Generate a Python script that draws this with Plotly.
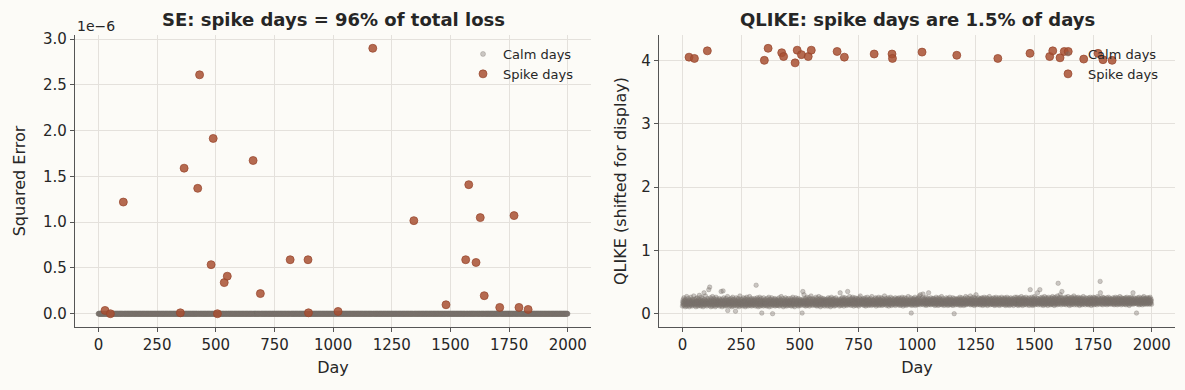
import plotly.graph_objects as go

# ---------------- data ----------------
n_days = 2000
spike_days = [28, 51, 106, 349, 365, 423, 431, 480, 489, 507, 536, 549, 659, 690, 817,
              893, 895, 1021, 1169, 1344, 1481, 1565, 1578, 1609, 1627, 1644, 1710, 1771,
              1792, 1831]
# squared error on spike days, in units of 1e-6
se_spike_x1e6 = [0.036, 0.0, 1.22, 0.01, 1.59, 1.37, 2.61, 0.536, 1.915, 0.0, 0.34, 0.41,
                 1.674, 0.22, 0.59, 0.59, 0.01, 0.025, 2.90, 1.017, 0.098, 0.59, 1.41, 0.56,
                 1.05, 0.197, 0.069, 1.072, 0.069, 0.047]
# QLIKE (shifted for display) on spike days
ql_spike = [4.05, 4.03, 4.15, 4.00, 4.19, 4.12, 4.06, 3.96, 4.16, 4.09, 4.06, 4.16, 4.14,
            4.05, 4.10, 4.10, 4.03, 4.13, 4.08, 4.03, 4.11, 4.06, 4.15, 4.04, 4.14, 4.14,
            4.02, 4.11, 4.01, 4.00]

# QLIKE (shifted) on calm days, in hundredths, read in day order
ql_calm_hundredths = """
12 19 16 22 14 18 25 13 17 20 15 21 11 18 23 16 14 19 27 12 17 15 20 18 13 24 16 19 11 21 17 14 22 18 15 26 13 19 16 20 12 17 23 15 18 21 14 28 16 19
17 13 22 15 19 11 24 18 16 20 14 25 17 12 21 19 15 23 13 18 29 16 20 14 17 22 12 19 26 15 18 13 21 17 24 16 11 20 18 14 33 19 15 22 17 13 28 16 21 18
15 20 12 19 24 17 14 22 16 38 18 13 21 42 15 19 25 17 11 20 16 23 14 18 12 27 19 15 21 17 13 24 18 16 20 14 22 11 19 17 26 15 18 13 23 16 20 14 19 17
18 14 21 16 24 12 19 17 22 15 13 20 35 18 16 23 11 19 14 21 36 17 15 25 13 18 20 16 22 12 19 14 17 24 16 21 13 18 15 27 05 20 17 14 22 16 19 12 18 23
16 21 13 19 15 24 17 11 20 18 14 26 16 22 12 19 17 15 23 13 18 21 16 04 19 14 25 17 20 12 18 15 22 16 13 24 19 17 11 21 15 18 28 14 20 16 23 13 17 19
14 18 22 16 12 20 17 25 15 19 13 21 18 16 24 11 19 14 22 17 15 26 13 20 18 16 23 12 19 15 21 17 14 27 16 18 13 22 20 15 17 24 12 19 16 21 14 18 23 15
19 13 21 17 15 24 16 20 12 18 22 45 14 19 17 25 13 21 16 18 11 23 15 20 17 14 26 19 12 22 16 18 15 24 13 01 20 17 14 21 16 19 12 25 18 15 22 17 13 20
16 22 14 19 17 12 24 18 15 21 13 20 16 26 17 11 19 23 15 18 14 22 16 20 12 25 17 19 15 00 21 14 18 16 23 13 20 17 15 24 12 19 22 16 18 14 21 17 13 20
18 15 23 13 20 17 16 25 12 19 21 14 18 16 22 15 27 17 13 20 19 15 24 16 11 21 18 14 22 17 19 13 25 16 20 15 18 12 23 17 14 21 19 16 24 13 18 15 20 17
15 21 17 13 19 24 16 18 12 22 20 14 17 26 15 19 13 21 16 18 23 11 20 17 15 25 14 19 16 22 18 13 21 17 24 15 12 20 19 16 14 23 18 17 21 13 19 15 22 16
01 20 17 35 14 22 19 16 30 13 21 18 15 24 17 12 20 16 23 19 14 26 17 13 21 18 15 22 16 25 12 19 20 14 17 23 16 28 18 15 21 13 19 24 17 16 22 14 20 18
17 23 14 19 16 21 13 26 18 15 20 12 24 17 19 14 22 16 18 27 13 20 15 23 17 19 11 21 16 25 14 18 22 15 20 17 13 24 19 16 21 14 18 23 12 20 17 15 22 19
20 14 18 23 16 12 21 19 15 25 17 13 22 18 16 20 24 14 19 11 21 17 15 26 18 13 20 16 23 19 14 22 17 15 24 12 20 18 16 21 13 19 25 17 14 22 18 15 20 16
16 21 19 14 23 17 12 20 18 33 15 22 19 13 24 17 21 16 18 14 26 20 15 19 23 12 18 21 16 25 17 14 22 19 15 20 13 24 18 16 35 21 17 14 19 22 15 18 27 16
19 15 22 17 13 24 18 20 16 21 14 26 19 17 23 15 12 20 18 22 16 25 14 19 21 17 13 24 18 15 20 16 23 19 14 22 17 12 21 18 25 15 19 16 28 14 20 17 22 18
17 22 15 20 18 14 24 16 21 19 13 23 17 15 20 25 18 12 22 16 19 14 21 17 26 15 20 18 13 23 16 19 22 14 17 21 15 24 18 16 20 13 19 27 17 22 15 18 14 21
21 16 19 14 23 17 20 15 25 18 12 22 16 19 24 14 17 21 18 15 20 26 13 19 17 23 16 21 14 18 22 15 25 19 17 13 20 16 24 18 21 14 19 15 22 17 28 16 20 18
15 20 17 24 13 19 22 16 18 14 21 25 17 19 12 23 16 20 18 15 22 14 26 17 19 21 13 18 24 16 20 15 22 17 14 19 23 18 16 21 25 13 19 17 20 15 22 18 16 24
18 23 16 14 21 19 25 17 15 20 13 22 18 16 24 19 14 21 17 26 15 20 18 12 23 16 19 22 14 17 25 18 20 15 21 16 13 24 19 17 22 15 18 20 14 27 16 21 19 17
16 19 22 14 20 17 25 15 01 21 18 13 23 16 20 19 15 24 17 22 14 18 21 16 26 19 13 20 17 23 15 22 18 16 24 14 19 21 17 15 25 20 16 28 18 22 14 30 19 17
20 17 23 15 19 25 16 31 18 22 14 20 17 24 19 15 21 16 23 18 13 26 17 20 15 22 19 16 24 14 18 33 17 21 16 19 23 15 20 18 14 25 17 22 16 19 21 15 24 18
17 21 15 24 18 16 20 13 23 19 17 22 14 26 18 16 21 15 19 24 17 13 20 18 22 16 25 14 19 17 21 23 15 18 20 16 27 14 19 22 17 15 24 18 16 21 13 20 19 17
19 16 22 14 20 18 25 15 17 23 21 16 19 13 24 18 15 22 17 20 14 26 18 16 21 19 15 23 17 14 20 22 16 18 25 13 19 21 17 15 00 24 18 16 22 19 14 20 17 23
15 22 18 16 24 19 14 21 17 20 23 15 18 26 16 13 22 19 17 21 15 25 18 14 20 17 23 16 19 22 13 18 24 17 15 21 19 16 27 14 20 18 22 15 17 25 19 16 21 18
18 24 16 20 15 22 19 17 28 14 21 18 16 23 19 15 25 17 20 14 22 18 16 26 19 13 21 17 24 15 20 18 30 16 22 19 14 23 17 21 15 18 25 16 20 19 17 22 14 24
21 17 14 23 19 16 20 25 15 18 22 13 24 17 19 21 15 26 18 16 20 14 23 19 17 22 15 25 18 20 16 13 24 19 21 17 15 22 18 27 16 20 14 23 19 17 21 15 24 18
16 20 23 15 18 21 14 25 17 19 22 16 13 24 18 20 15 26 19 17 21 14 23 16 18 22 15 20 25 17 13 19 24 16 21 18 15 22 20 14 26 17 19 23 16 18 21 15 24 17
19 14 22 17 25 16 20 13 23 18 21 15 19 26 17 14 22 20 16 24 18 15 21 13 19 23 17 20 16 25 14 18 22 19 15 21 17 24 16 20 18 13 23 19 17 22 15 26 18 16
17 23 15 20 18 26 14 21 19 16 24 13 22 18 20 15 25 17 19 14 23 21 16 18 27 15 20 22 17 13 24 19 16 21 18 25 14 20 17 23 15 19 22 16 26 18 14 21 20 17
20 16 24 18 15 22 19 13 25 17 21 38 16 19 23 14 20 18 26 15 22 17 13 24 19 16 21 18 15 27 20 14 23 17 19 22 16 25 18 21 15 19 33 17 24 14 20 18 22 16
18 22 38 16 25 19 14 21 17 23 20 15 26 18 16 24 13 22 19 17 21 15 27 18 20 14 23 16 19 25 17 22 15 18 24 20 13 21 16 26 19 17 23 15 20 18 22 14 25 16
21 15 24 18 16 27 20 14 22 19 17 25 13 23 18 21 16 26 19 15 22 17 24 20 14 28 18 16 48 21 23 19 15 25 17 22 30 20 16 26 14 21 18 35 24 19 17 22 15 20
17 24 20 15 22 18 26 16 21 19 14 25 17 23 20 16 22 18 27 15 19 24 21 13 23 17 20 16 25 18 22 14 21 19 26 17 15 24 20 18 22 16 28 19 14 23 21 17 25 18
19 16 23 21 14 25 18 20 17 22 15 26 19 16 24 20 13 21 18 23 17 15 25 19 22 16 20 14 24 18 21 17 27 15 19 23 16 20 18 22 14 25 17 21 19 16 24 18 20 15
16 22 19 14 25 18 21 17 23 15 20 26 16 19 22 13 24 18 21 17 15 23 19 16 26 20 14 22 18 25 17 21 15 19 24 16 20 18 23 14 22 17 27 19 16 21 25 18 15 20
22 18 51 33 16 21 24 19 15 23 17 20 26 14 22 18 25 16 21 19 17 24 15 20 23 18 16 22 19 25 14 21 17 20 23 16 18 26 15 22 19 17 24 20 16 21 18 23 15 19
18 23 16 21 19 25 15 22 17 20 14 24 18 21 16 26 19 17 23 15 20 22 18 14 25 17 21 19 16 24 20 15 22 18 27 16 19 23 17 21 14 25 20 18 16 22 19 24 15 21
20 17 24 16 22 19 15 25 18 21 14 23 17 20 26 16 19 22 18 15 24 20 17 21 13 25 19 16 23 18 22 15 20 26 17 19 24 16 21 18 33 15 22 20 17 25 19 16 23 18
17 21 19 24 16 01 22 18 20 15 25 17 23 19 16 21 14 26 18 20 22 17 15 24 19 21 16 23 18 20 14 25 17 22 19 16 27 18 21 15 24 20 17 23 16 19 22 18 25 15
19 23 16 21 18 25 17 20 22 15 24 19 16 26 18 21 17 23 20 15 22 19 25 16 18 24 17 21 20 23 16 19 22 18 25 17 20 16 24 21 19 23 18 15 22 20 17 24 19 21
"""

calm_days = [d for d in range(n_days) if d not in set(spike_days)]
ql_calm_vals = [int(t) / 100 for t in ql_calm_hundredths.split()]
ql_calm = [v for _, v in zip(calm_days, ql_calm_vals)]
calm_days_ql = calm_days[:len(ql_calm)]
# squared error on calm days reads as zero at this scale
se_calm_x1e6 = [0.0 for _ in calm_days]

titles = ["SE: spike days = 96% of total loss", "QLIKE: spike days are 1.5% of days"]
y_titles = ["Squared Error", "QLIKE (shifted for display)"]
x_ticks = [0, 250, 500, 750, 1000, 1250, 1500, 1750, 2000]

# ---------------- style ----------------
W, H = 1185, 390
BG = "#fcfbf7"
GRID = "#e4e1dc"
AXIS = "#555555"
TXT = "#262626"
CALM = "rgba(122,114,108,0.38)"
CALM_EDGE = "rgba(122,114,108,0.5)"
SPIKE = "rgba(168,80,50,0.85)"
SPIKE_EDGE = "rgba(150,70,45,0.9)"
FONT = "DejaVu Sans"

fig = go.Figure()

fig.add_trace(go.Scatter(x=calm_days, y=se_calm_x1e6, mode="markers", name="Calm days",
                         marker=dict(size=5, color=CALM, line=dict(width=0.6, color=CALM_EDGE)),
                         xaxis="x", yaxis="y", legend="legend"))
fig.add_trace(go.Scatter(x=spike_days, y=se_spike_x1e6, mode="markers", name="Spike days",
                         marker=dict(size=8, color=SPIKE, line=dict(width=0.8, color=SPIKE_EDGE)),
                         xaxis="x", yaxis="y", legend="legend"))
fig.add_trace(go.Scatter(x=calm_days_ql, y=ql_calm, mode="markers", name="Calm days",
                         marker=dict(size=4.5, color=CALM, line=dict(width=0.6, color=CALM_EDGE)),
                         xaxis="x2", yaxis="y2", legend="legend2"))
fig.add_trace(go.Scatter(x=spike_days, y=ql_spike, mode="markers", name="Spike days",
                         marker=dict(size=8, color=SPIKE, line=dict(width=0.8, color=SPIKE_EDGE)),
                         xaxis="x2", yaxis="y2", legend="legend2"))

ydom = [1 - 327 / H, 1 - 35 / H]
common_x = dict(range=[-99.95, 2098.95], tickvals=x_ticks, showgrid=True, gridcolor=GRID,
                gridwidth=1, showline=True, linecolor=AXIS, linewidth=1.2, ticks="outside",
                ticklen=4, tickcolor=AXIS, zeroline=False, automargin=False,
                tickfont=dict(family=FONT, size=15, color=TXT),
                title=dict(text="Day", font=dict(family=FONT, size=16, color=TXT), standoff=8))
common_y = dict(showgrid=True, gridcolor=GRID, gridwidth=1, showline=True, linecolor=AXIS,
                linewidth=1.2, ticks="outside", ticklen=4, tickcolor=AXIS, zeroline=False,
                automargin=False, tickfont=dict(family=FONT, size=15, color=TXT))

fig.update_layout(
    width=W, height=H,
    margin=dict(l=0, r=0, t=0, b=0),
    paper_bgcolor=BG, plot_bgcolor=BG,
    font=dict(family=FONT, color=TXT),
    hovermode=False,
    xaxis=dict(domain=[75 / W, 591 / W], anchor="y", **common_x),
    yaxis=dict(domain=ydom, anchor="x", range=[-0.145, 3.045],
               tickvals=[0, 0.5, 1.0, 1.5, 2.0, 2.5, 3.0], tickformat=".1f",
               title=dict(text=y_titles[0], font=dict(family=FONT, size=16, color=TXT), standoff=13),
               **common_y),
    xaxis2=dict(domain=[659 / W, 1175 / W], anchor="y2", **common_x),
    yaxis2=dict(domain=ydom, anchor="x2", range=[-0.21, 4.40], tickvals=[0, 1, 2, 3, 4],
                title=dict(text=y_titles[1], font=dict(family=FONT, size=16, color=TXT), standoff=10),
                **common_y),
    legend=dict(x=463 / W, y=1 - 39 / H, xanchor="left", yanchor="top",
                bgcolor="rgba(0,0,0,0)", borderwidth=0,
                font=dict(family=FONT, size=13, color=TXT)),
    legend2=dict(x=1048 / W, y=1 - 39 / H, xanchor="left", yanchor="top",
                 bgcolor="rgba(0,0,0,0)", borderwidth=0,
                 font=dict(family=FONT, size=13, color=TXT)),
    showlegend=True,
)

for i, t in enumerate(titles):
    xr = "x domain" if i == 0 else "x2 domain"
    yr = "y domain" if i == 0 else "y2 domain"
    fig.add_annotation(text="<b>" + t + "</b>", xref=xr, yref=yr, x=0.5, y=1,
                       xanchor="center", yanchor="bottom", yshift=3, showarrow=False,
                       font=dict(family=FONT, size=18, color=TXT))

fig.add_annotation(text="1e\u22126", xref="paper", yref="paper", x=75 / W, y=1 - 26 / H,
                   xanchor="left", yanchor="middle", showarrow=False,
                   font=dict(family=FONT, size=14, color=TXT))

fig.write_html(
    "out.html",
    config={"displayModeBar": False},
    post_script="document.body.style.margin='0';document.body.style.padding='0';"
                "document.body.style.background='" + BG + "';",
)
